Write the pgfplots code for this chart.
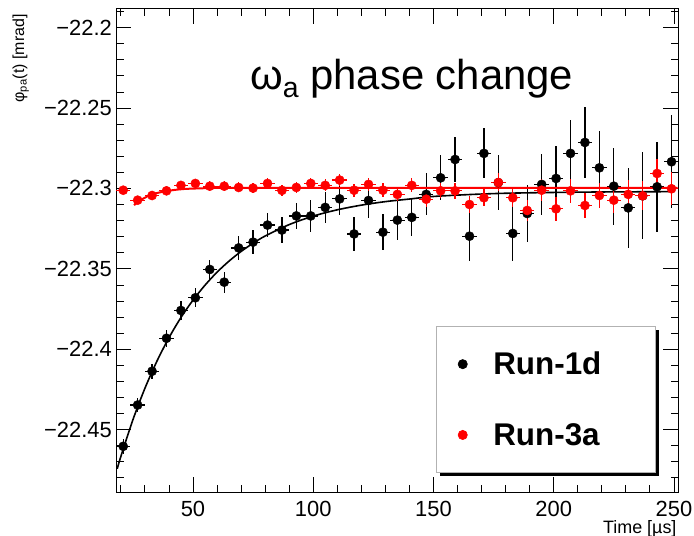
\documentclass[border=0pt]{standalone}
\usepackage{fontspec}
\setmainfont{Liberation Sans}
\usepackage{pgfplots}
\pgfplotsset{compat=1.18}
\usepackage{pgfplotstable}
\usetikzlibrary{shadows}

\pgfplotstableread{
x y ey
21 -22.4604 0.0046
27 -22.4347 0.0046
33 -22.4137 0.0048
39 -22.3932 0.0054
45 -22.3759 0.0060
51 -22.3680 0.0060
57 -22.3504 0.0058
63 -22.3583 0.0066
69 -22.3370 0.0073
75 -22.3334 0.0073
81 -22.3228 0.0077
87 -22.3259 0.0083
93 -22.3171 0.0083
99 -22.3171 0.0097
105 -22.3118 0.0097
111 -22.3065 0.0100
117 -22.3283 0.0106
123 -22.3075 0.0110
129 -22.3272 0.0110
135 -22.3197 0.0124
141 -22.3180 0.0115
147 -22.3037 0.0130
153 -22.2934 0.0140
159 -22.2820 0.0140
165 -22.3297 0.0156
171 -22.2782 0.0156
177 -22.2964 0.0170
183 -22.3280 0.0170
189 -22.3156 0.0180
195 -22.2975 0.0190
201 -22.2938 0.0200
207 -22.2782 0.0210
213 -22.2714 0.0220
219 -22.2872 0.0230
225 -22.2986 0.0240
231 -22.3121 0.0250
237 -22.3046 0.0270
243 -22.2990 0.0280
249 -22.2834 0.0290
}\runone

\pgfplotstableread{
x y ey
21 -22.3011 0.0025
27 -22.3073 0.0026
33 -22.3044 0.0027
39 -22.3015 0.0028
45 -22.2981 0.0028
51 -22.2969 0.0029
57 -22.2986 0.0030
63 -22.2986 0.0030
69 -22.2994 0.0031
75 -22.2998 0.0032
81 -22.2969 0.0033
87 -22.3012 0.0034
93 -22.2994 0.0035
99 -22.2969 0.0036
105 -22.2981 0.0037
111 -22.2948 0.0039
117 -22.3011 0.0040
123 -22.2975 0.0038
129 -22.3011 0.0042
135 -22.3037 0.0043
141 -22.2981 0.0044
147 -22.3067 0.0046
153 -22.3015 0.0047
159 -22.3015 0.0049
165 -22.3100 0.0050
171 -22.3058 0.0054
177 -22.2963 0.0056
183 -22.3058 0.0060
189 -22.3137 0.0064
195 -22.3011 0.0068
201 -22.3127 0.0073
207 -22.3015 0.0073
213 -22.3106 0.0075
219 -22.3044 0.0078
225 -22.3073 0.0081
231 -22.3037 0.0087
237 -22.3046 0.0091
243 -22.2907 0.0093
249 -22.3002 0.0104
}\runthree

\begin{document}
\begin{tikzpicture}
\useasboundingbox (0,0) rectangle (694bp,536bp);
\begin{axis}[
  at={(116bp,44bp)}, anchor=south west,
  scale only axis, width=562bp, height=483bp,
  xmin=18, xmax=251.7, ymin=-22.4888, ymax=-22.1884,
  axis line style={line width=1bp},
  tick align=inside,
  major tick length=15bp, minor tick length=7.5bp,
  every tick/.style={black, line width=0.8bp},
  xtick={50,100,150,200,250},
  minor xtick={20,30,...,250},
  ytick={-22.45,-22.4,-22.35,-22.3,-22.25,-22.2},
  yticklabels={−22.45,−22.4,−22.35,−22.3,−22.25,−22.2},
  minor ytick={-22.48,-22.47,-22.46,-22.45,-22.44,-22.43,-22.42,-22.41,-22.4,-22.39,-22.38,-22.37,-22.36,-22.35,-22.34,-22.33,-22.32,-22.31,-22.3,-22.29,-22.28,-22.27,-22.26,-22.25,-22.24,-22.23,-22.22,-22.21,-22.2,-22.19},
  /pgf/number format/assume math mode=true,
  ticklabel style={font=\fontsize{22}{26}\selectfont},
  xticklabel style={inner sep=0pt, yshift=-9bp},
  yticklabel style={inner sep=0pt, xshift=-4bp},
  xlabel={Time [µs]},
  every axis x label/.style={at={(rel axis cs:1,0)}, anchor=base east, xshift=2bp, yshift=-41bp, font=\fontsize{18}{20}\selectfont},
  ylabel={φ\textsubscript{pa}(t) [mrad]},
  every axis y label/.style={at={(axis description cs:-0.1637,0.9959)}, rotate=90, anchor=base east, font=\fontsize{16}{18}\selectfont},
  error bars/error bar style={line width=1.2bp},
  legend cell align=left,
  legend image code/.code={\draw[#1] plot coordinates {(0bp,0bp)};},
  legend style={at={(rel axis cs:0.569,0.0393)}, anchor=south west,
    draw=gray!60, line width=0.7bp, fill=white,
    drop shadow={shadow xshift=3.5bp, shadow yshift=-3.5bp, fill=black, opacity=1},
    font=\fontsize{31.5}{35}\bfseries\selectfont,
    inner xsep=22bp, inner ysep=24bp, row sep=43bp},
  /tikz/every odd column/.append style={column sep=24bp},
]
\addplot[only marks, mark=*, mark size=4.6bp, black, mark options={fill=black, draw=black},
  error bars/.cd, y dir=both, y explicit, x dir=both, x fixed=3, error mark=none]
  table[x=x, y=y, y error=ey] {\runone};
\addlegendentry{\makebox[138bp][l]{Run-1d}}
\addplot[black, line width=1.6bp, no marks, smooth, forget plot] coordinates {
(18.5,-22.4744) (20,-22.4668) (25,-22.4440) (30,-22.4244) (35,-22.4075) (40,-22.3929)
(45,-22.3803) (50,-22.3695) (55,-22.3602) (60,-22.3521) (65,-22.3452) (70,-22.3392)
(75,-22.3341) (80,-22.3296) (90,-22.3225) (100,-22.3172) (110,-22.3133) (120,-22.3104)
(130,-22.3082) (140,-22.3066) (150,-22.3050) (165,-22.3038) (180,-22.3030) (200,-22.3025)
(220,-22.3022) (250,-22.3020)};
\addplot[only marks, mark=*, mark size=4.6bp, red, mark options={fill=red, draw=red},
  error bars/.cd, y dir=both, y explicit, x dir=both, x fixed=3, error mark=none]
  table[x=x, y=y, y error=ey] {\runthree};
\addlegendentry{\makebox[138bp][l]{Run-3a}}
\addplot[red, line width=2bp, no marks, smooth, forget plot] coordinates {
(25.5,-22.3104) (28,-22.3075) (31,-22.3050) (34,-22.3033) (37,-22.3022) (40,-22.3014)
(45,-22.3005) (50,-22.3001) (60,-22.2997) (80,-22.2996) (150,-22.2996) (251.5,-22.2996)};
\end{axis}
\node[anchor=base west, font=\fontsize{42}{48}\selectfont, inner sep=0pt] at (250bp,446bp)
  {ω\raisebox{-7.5bp}{\fontsize{28.5}{28.5}\selectfont a} phase change};
\end{tikzpicture}
\end{document}
